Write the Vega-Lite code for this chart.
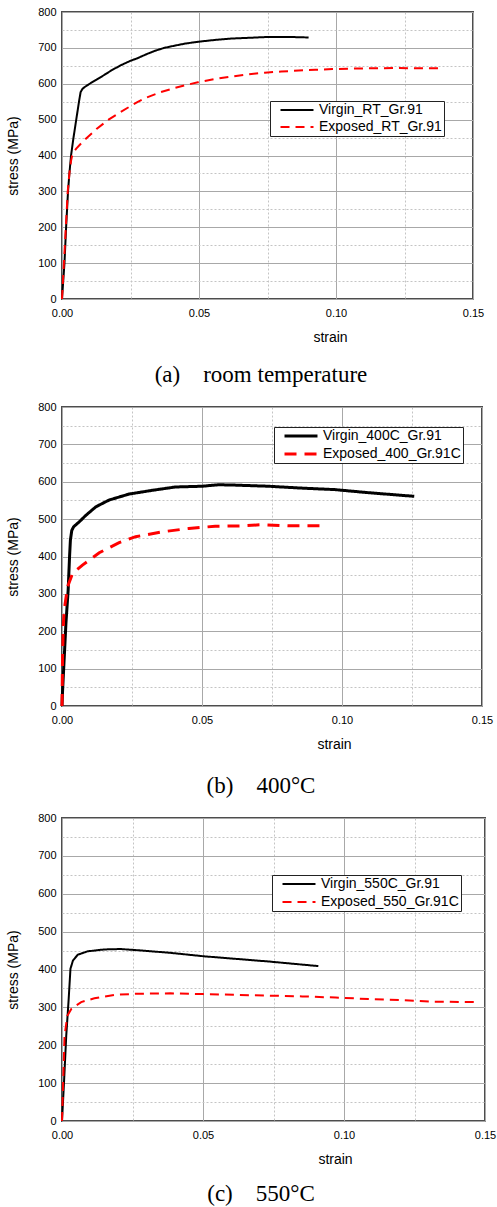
{
"$schema": "https://vega.github.io/schema/vega-lite/v6.json",
"padding": {"left": 5, "top": 5, "right": 5, "bottom": 5},
"spacing": 12,
"config": {
  "view": {"stroke": "#4d4d4d", "strokeWidth": 2},
  "font": "Liberation Sans",
  "axis": {"labelColor": "#000", "titleColor": "#000", "labelFont": "Liberation Sans", "titleFont": "Liberation Sans", "labelFontSize": 11, "titleFontSize": 14, "titleFontWeight": "normal", "domain": false, "ticks": false, "labelOverlap": false},
  "legend": {"labelFont": "Liberation Sans", "labelFontSize": 14, "labelColor": "#000", "strokeColor": "#222", "fillColor": "#ffffff", "padding": 2, "rowPadding": 3, "symbolType": "M-4,0H4", "symbolSize": 68, "symbolStrokeWidth": 2, "symbolOffset": 18, "labelOffset": 15, "orient": "none", "title": null},
  "title": {"font": "Liberation Serif", "fontSize": 23, "fontWeight": "normal", "color": "#000", "orient": "bottom", "offset": 20, "frame": "group"}
},
"resolve": {"scale": {"color": "independent", "strokeDash": "independent", "x": "independent", "y": "independent"}},
"datasets": {
  "a": [
    {"series": "Virgin_RT_Gr.91", "strain": 0, "stress": 0},
    {"series": "Virgin_RT_Gr.91", "strain": 0.0009, "stress": 100},
    {"series": "Virgin_RT_Gr.91", "strain": 0.0015, "stress": 200},
    {"series": "Virgin_RT_Gr.91", "strain": 0.0022, "stress": 300},
    {"series": "Virgin_RT_Gr.91", "strain": 0.0027, "stress": 350},
    {"series": "Virgin_RT_Gr.91", "strain": 0.0033, "stress": 400},
    {"series": "Virgin_RT_Gr.91", "strain": 0.0042, "stress": 450},
    {"series": "Virgin_RT_Gr.91", "strain": 0.0052, "stress": 500},
    {"series": "Virgin_RT_Gr.91", "strain": 0.0062, "stress": 550},
    {"series": "Virgin_RT_Gr.91", "strain": 0.0068, "stress": 577},
    {"series": "Virgin_RT_Gr.91", "strain": 0.0075, "stress": 586},
    {"series": "Virgin_RT_Gr.91", "strain": 0.0083, "stress": 591},
    {"series": "Virgin_RT_Gr.91", "strain": 0.0101, "stress": 600},
    {"series": "Virgin_RT_Gr.91", "strain": 0.0125, "stress": 611},
    {"series": "Virgin_RT_Gr.91", "strain": 0.0151, "stress": 623},
    {"series": "Virgin_RT_Gr.91", "strain": 0.018, "stress": 637},
    {"series": "Virgin_RT_Gr.91", "strain": 0.0213, "stress": 651},
    {"series": "Virgin_RT_Gr.91", "strain": 0.025, "stress": 664},
    {"series": "Virgin_RT_Gr.91", "strain": 0.0275, "stress": 671},
    {"series": "Virgin_RT_Gr.91", "strain": 0.031, "stress": 683},
    {"series": "Virgin_RT_Gr.91", "strain": 0.034, "stress": 692},
    {"series": "Virgin_RT_Gr.91", "strain": 0.0373, "stress": 700},
    {"series": "Virgin_RT_Gr.91", "strain": 0.041, "stress": 706},
    {"series": "Virgin_RT_Gr.91", "strain": 0.045, "stress": 712},
    {"series": "Virgin_RT_Gr.91", "strain": 0.0496, "stress": 717},
    {"series": "Virgin_RT_Gr.91", "strain": 0.0557, "stress": 722},
    {"series": "Virgin_RT_Gr.91", "strain": 0.0618, "stress": 726},
    {"series": "Virgin_RT_Gr.91", "strain": 0.068, "stress": 728},
    {"series": "Virgin_RT_Gr.91", "strain": 0.074, "stress": 730},
    {"series": "Virgin_RT_Gr.91", "strain": 0.08, "stress": 730},
    {"series": "Virgin_RT_Gr.91", "strain": 0.085, "stress": 730},
    {"series": "Virgin_RT_Gr.91", "strain": 0.09, "stress": 729},
    {"series": "Exposed_RT_Gr.91", "strain": 0, "stress": 0},
    {"series": "Exposed_RT_Gr.91", "strain": 0.0007, "stress": 100},
    {"series": "Exposed_RT_Gr.91", "strain": 0.0014, "stress": 200},
    {"series": "Exposed_RT_Gr.91", "strain": 0.0021, "stress": 300},
    {"series": "Exposed_RT_Gr.91", "strain": 0.0027, "stress": 350},
    {"series": "Exposed_RT_Gr.91", "strain": 0.0033, "stress": 385},
    {"series": "Exposed_RT_Gr.91", "strain": 0.0037, "stress": 400},
    {"series": "Exposed_RT_Gr.91", "strain": 0.0045, "stress": 412},
    {"series": "Exposed_RT_Gr.91", "strain": 0.0052, "stress": 419},
    {"series": "Exposed_RT_Gr.91", "strain": 0.007, "stress": 434},
    {"series": "Exposed_RT_Gr.91", "strain": 0.0089, "stress": 448},
    {"series": "Exposed_RT_Gr.91", "strain": 0.0126, "stress": 474},
    {"series": "Exposed_RT_Gr.91", "strain": 0.017, "stress": 500},
    {"series": "Exposed_RT_Gr.91", "strain": 0.0213, "stress": 521},
    {"series": "Exposed_RT_Gr.91", "strain": 0.0275, "stress": 549},
    {"series": "Exposed_RT_Gr.91", "strain": 0.031, "stress": 562},
    {"series": "Exposed_RT_Gr.91", "strain": 0.0361, "stress": 577},
    {"series": "Exposed_RT_Gr.91", "strain": 0.041, "stress": 588},
    {"series": "Exposed_RT_Gr.91", "strain": 0.045, "stress": 596},
    {"series": "Exposed_RT_Gr.91", "strain": 0.0496, "stress": 604},
    {"series": "Exposed_RT_Gr.91", "strain": 0.0557, "stress": 613},
    {"series": "Exposed_RT_Gr.91", "strain": 0.0618, "stress": 620},
    {"series": "Exposed_RT_Gr.91", "strain": 0.068, "stress": 626},
    {"series": "Exposed_RT_Gr.91", "strain": 0.074, "stress": 631},
    {"series": "Exposed_RT_Gr.91", "strain": 0.08, "stress": 634},
    {"series": "Exposed_RT_Gr.91", "strain": 0.0864, "stress": 637},
    {"series": "Exposed_RT_Gr.91", "strain": 0.0925, "stress": 639},
    {"series": "Exposed_RT_Gr.91", "strain": 0.0987, "stress": 641},
    {"series": "Exposed_RT_Gr.91", "strain": 0.105, "stress": 642},
    {"series": "Exposed_RT_Gr.91", "strain": 0.111, "stress": 643},
    {"series": "Exposed_RT_Gr.91", "strain": 0.117, "stress": 643},
    {"series": "Exposed_RT_Gr.91", "strain": 0.123, "stress": 644},
    {"series": "Exposed_RT_Gr.91", "strain": 0.13, "stress": 643},
    {"series": "Exposed_RT_Gr.91", "strain": 0.1393, "stress": 643}
  ],
  "b": [
    {"series": "Virgin_400C_Gr.91", "strain": 0, "stress": 0},
    {"series": "Virgin_400C_Gr.91", "strain": 0.0002, "stress": 40},
    {"series": "Virgin_400C_Gr.91", "strain": 0.0008, "stress": 130},
    {"series": "Virgin_400C_Gr.91", "strain": 0.0014, "stress": 221},
    {"series": "Virgin_400C_Gr.91", "strain": 0.0022, "stress": 310},
    {"series": "Virgin_400C_Gr.91", "strain": 0.0027, "stress": 400},
    {"series": "Virgin_400C_Gr.91", "strain": 0.003, "stress": 444},
    {"series": "Virgin_400C_Gr.91", "strain": 0.0035, "stress": 470},
    {"series": "Virgin_400C_Gr.91", "strain": 0.0042, "stress": 480},
    {"series": "Virgin_400C_Gr.91", "strain": 0.0062, "stress": 493},
    {"series": "Virgin_400C_Gr.91", "strain": 0.0085, "stress": 510},
    {"series": "Virgin_400C_Gr.91", "strain": 0.0121, "stress": 533},
    {"series": "Virgin_400C_Gr.91", "strain": 0.0168, "stress": 551},
    {"series": "Virgin_400C_Gr.91", "strain": 0.0239, "stress": 567},
    {"series": "Virgin_400C_Gr.91", "strain": 0.0322, "stress": 577},
    {"series": "Virgin_400C_Gr.91", "strain": 0.0405, "stress": 586},
    {"series": "Virgin_400C_Gr.91", "strain": 0.05, "stress": 588},
    {"series": "Virgin_400C_Gr.91", "strain": 0.0559, "stress": 592},
    {"series": "Virgin_400C_Gr.91", "strain": 0.0618, "stress": 591},
    {"series": "Virgin_400C_Gr.91", "strain": 0.0737, "stress": 588},
    {"series": "Virgin_400C_Gr.91", "strain": 0.0855, "stress": 583},
    {"series": "Virgin_400C_Gr.91", "strain": 0.0974, "stress": 579},
    {"series": "Virgin_400C_Gr.91", "strain": 0.109, "stress": 571},
    {"series": "Virgin_400C_Gr.91", "strain": 0.1258, "stress": 561},
    {"series": "Exposed_400_Gr.91C", "strain": 0, "stress": 0},
    {"series": "Exposed_400_Gr.91C", "strain": 0.0002, "stress": 132},
    {"series": "Exposed_400_Gr.91C", "strain": 0.0005, "stress": 221},
    {"series": "Exposed_400_Gr.91C", "strain": 0.0008, "stress": 257},
    {"series": "Exposed_400_Gr.91C", "strain": 0.002, "stress": 319},
    {"series": "Exposed_400_Gr.91C", "strain": 0.0038, "stress": 355},
    {"series": "Exposed_400_Gr.91C", "strain": 0.0073, "stress": 377},
    {"series": "Exposed_400_Gr.91C", "strain": 0.0133, "stress": 410},
    {"series": "Exposed_400_Gr.91C", "strain": 0.0204, "stress": 437},
    {"series": "Exposed_400_Gr.91C", "strain": 0.0263, "stress": 453},
    {"series": "Exposed_400_Gr.91C", "strain": 0.0358, "stress": 466},
    {"series": "Exposed_400_Gr.91C", "strain": 0.0453, "stress": 475},
    {"series": "Exposed_400_Gr.91C", "strain": 0.0547, "stress": 481},
    {"series": "Exposed_400_Gr.91C", "strain": 0.0642, "stress": 482},
    {"series": "Exposed_400_Gr.91C", "strain": 0.0713, "stress": 485},
    {"series": "Exposed_400_Gr.91C", "strain": 0.0808, "stress": 482},
    {"series": "Exposed_400_Gr.91C", "strain": 0.0927, "stress": 482}
  ],
  "c": [
    {"series": "Virgin_550C_Gr.91", "strain": 0, "stress": 0},
    {"series": "Virgin_550C_Gr.91", "strain": 0.0007, "stress": 100},
    {"series": "Virgin_550C_Gr.91", "strain": 0.0015, "stress": 225},
    {"series": "Virgin_550C_Gr.91", "strain": 0.0023, "stress": 314},
    {"series": "Virgin_550C_Gr.91", "strain": 0.003, "stress": 402},
    {"series": "Virgin_550C_Gr.91", "strain": 0.0039, "stress": 424},
    {"series": "Virgin_550C_Gr.91", "strain": 0.0056, "stress": 439},
    {"series": "Virgin_550C_Gr.91", "strain": 0.0091, "stress": 448},
    {"series": "Virgin_550C_Gr.91", "strain": 0.015, "stress": 453},
    {"series": "Virgin_550C_Gr.91", "strain": 0.0208, "stress": 454},
    {"series": "Virgin_550C_Gr.91", "strain": 0.0267, "stress": 451},
    {"series": "Virgin_550C_Gr.91", "strain": 0.0384, "stress": 444},
    {"series": "Virgin_550C_Gr.91", "strain": 0.0501, "stress": 435},
    {"series": "Virgin_550C_Gr.91", "strain": 0.0618, "stress": 428},
    {"series": "Virgin_550C_Gr.91", "strain": 0.0735, "stress": 421},
    {"series": "Virgin_550C_Gr.91", "strain": 0.0909, "stress": 409},
    {"series": "Exposed_550_Gr.91C", "strain": 0, "stress": 0},
    {"series": "Exposed_550_Gr.91C", "strain": 0.0004, "stress": 100},
    {"series": "Exposed_550_Gr.91C", "strain": 0.0009, "stress": 225},
    {"series": "Exposed_550_Gr.91C", "strain": 0.0019, "stress": 278},
    {"series": "Exposed_550_Gr.91C", "strain": 0.0033, "stress": 296},
    {"series": "Exposed_550_Gr.91C", "strain": 0.0068, "stress": 314},
    {"series": "Exposed_550_Gr.91C", "strain": 0.0115, "stress": 324},
    {"series": "Exposed_550_Gr.91C", "strain": 0.0185, "stress": 333},
    {"series": "Exposed_550_Gr.91C", "strain": 0.0267, "stress": 336},
    {"series": "Exposed_550_Gr.91C", "strain": 0.0384, "stress": 337},
    {"series": "Exposed_550_Gr.91C", "strain": 0.0501, "stress": 335},
    {"series": "Exposed_550_Gr.91C", "strain": 0.0618, "stress": 333},
    {"series": "Exposed_550_Gr.91C", "strain": 0.0735, "stress": 331},
    {"series": "Exposed_550_Gr.91C", "strain": 0.0852, "stress": 329},
    {"series": "Exposed_550_Gr.91C", "strain": 0.097, "stress": 326},
    {"series": "Exposed_550_Gr.91C", "strain": 0.1087, "stress": 322},
    {"series": "Exposed_550_Gr.91C", "strain": 0.1204, "stress": 319},
    {"series": "Exposed_550_Gr.91C", "strain": 0.1321, "stress": 315},
    {"series": "Exposed_550_Gr.91C", "strain": 0.1473, "stress": 314}
  ]
},
"vconcat": [
  {
    "width": 411, "height": 287,
    "data": {"name": "a"},
    "title": {"text": "(a)\u2003room temperature", "dx": -6.5},
    "mark": {"type": "line", "strokeWidth": 2},
    "encoding": {
      "x": {"field": "strain", "type": "quantitative", "scale": {"domain": [0, 0.15], "nice": false, "zero": false},
        "axis": {"title": "strain", "values": [0, 0.025, 0.05, 0.075, 0.1, 0.125, 0.15], "format": ".2f", "labelFlush": false, "labelPadding": 8,
          "labelExpr": "round(datum.value*1000) % 50 === 0 ? datum.label : ''",
          "gridColor": {"condition": {"test": "round(datum.value*1000) % 50 === 0", "value": "#a8a8a8"}, "value": "#c4c4c4"},
          "gridDash": {"condition": {"test": "round(datum.value*1000) % 50 === 0", "value": []}, "value": [2, 2]},
          "titleX": 268, "titleY": 38, "titleBaseline": "middle"}},
      "y": {"field": "stress", "type": "quantitative", "scale": {"domain": [0, 800], "nice": false},
        "axis": {"title": "stress (MPa)", "values": [0, 50, 100, 150, 200, 250, 300, 350, 400, 450, 500, 550, 600, 650, 700, 750, 800], "labelPadding": 6,
          "labelExpr": "datum.value % 100 === 0 ? datum.label : ''",
          "gridColor": {"condition": {"test": "datum.value % 100 === 0", "value": "#a8a8a8"}, "value": "#c4c4c4"},
          "gridDash": {"condition": {"test": "datum.value % 100 === 0", "value": []}, "value": [2, 2]},
          "titleX": -49, "titleBaseline": "middle"}},
      "color": {"field": "series", "type": "nominal", "scale": {"domain": ["Virgin_RT_Gr.91", "Exposed_RT_Gr.91"], "range": ["#000000", "#ff0000"]},
        "legend": {"legendX": 208, "legendY": 89}},
      "strokeDash": {"field": "series", "type": "nominal", "scale": {"domain": ["Virgin_RT_Gr.91", "Exposed_RT_Gr.91"], "range": [[1, 0], [9, 6]]},
        "legend": {"legendX": 208, "legendY": 89}}
    }
  },
  {
    "width": 420, "height": 299,
    "data": {"name": "b"},
    "title": {"text": "(b)\u2003400°C", "dx": -11, "offset": 24},
    "mark": {"type": "line", "strokeWidth": 3},
    "encoding": {
      "x": {"field": "strain", "type": "quantitative", "scale": {"domain": [0, 0.15], "nice": false, "zero": false},
        "axis": {"title": "strain", "values": [0, 0.025, 0.05, 0.075, 0.1, 0.125, 0.15], "format": ".2f", "labelFlush": false, "labelPadding": 8,
          "labelExpr": "round(datum.value*1000) % 50 === 0 ? datum.label : ''",
          "gridColor": {"condition": {"test": "round(datum.value*1000) % 50 === 0", "value": "#a8a8a8"}, "value": "#c4c4c4"},
          "gridDash": {"condition": {"test": "round(datum.value*1000) % 50 === 0", "value": []}, "value": [2, 2]},
          "titleX": 272, "titleY": 38, "titleBaseline": "middle"}},
      "y": {"field": "stress", "type": "quantitative", "scale": {"domain": [0, 800], "nice": false},
        "axis": {"title": "stress (MPa)", "values": [0, 50, 100, 150, 200, 250, 300, 350, 400, 450, 500, 550, 600, 650, 700, 750, 800], "labelPadding": 6,
          "labelExpr": "datum.value % 100 === 0 ? datum.label : ''",
          "gridColor": {"condition": {"test": "datum.value % 100 === 0", "value": "#a8a8a8"}, "value": "#c4c4c4"},
          "gridDash": {"condition": {"test": "datum.value % 100 === 0", "value": []}, "value": [2, 2]},
          "titleX": -49, "titleBaseline": "middle"}},
      "color": {"field": "series", "type": "nominal", "scale": {"domain": ["Virgin_400C_Gr.91", "Exposed_400_Gr.91C"], "range": ["#000000", "#ff0000"]},
        "legend": {"legendX": 212, "legendY": 20, "symbolStrokeWidth": 3, "rowPadding": 4}},
      "strokeDash": {"field": "series", "type": "nominal", "scale": {"domain": ["Virgin_400C_Gr.91", "Exposed_400_Gr.91C"], "range": [[1, 0], [12, 8]]},
        "legend": {"legendX": 212, "legendY": 20, "symbolStrokeWidth": 3, "rowPadding": 4}}
    }
  },
  {
    "width": 423, "height": 303,
    "data": {"name": "c"},
    "title": {"text": "(c)\u2003550°C", "dx": -12.5, "offset": 17},
    "mark": {"type": "line", "strokeWidth": 2},
    "encoding": {
      "x": {"field": "strain", "type": "quantitative", "scale": {"domain": [0, 0.15], "nice": false, "zero": false},
        "axis": {"title": "strain", "values": [0, 0.025, 0.05, 0.075, 0.1, 0.125, 0.15], "format": ".2f", "labelFlush": false, "labelPadding": 8,
          "labelExpr": "round(datum.value*1000) % 50 === 0 ? datum.label : ''",
          "gridColor": {"condition": {"test": "round(datum.value*1000) % 50 === 0", "value": "#a8a8a8"}, "value": "#c4c4c4"},
          "gridDash": {"condition": {"test": "round(datum.value*1000) % 50 === 0", "value": []}, "value": [2, 2]},
          "titleX": 273, "titleY": 38, "titleBaseline": "middle"}},
      "y": {"field": "stress", "type": "quantitative", "scale": {"domain": [0, 800], "nice": false},
        "axis": {"title": "stress (MPa)", "values": [0, 50, 100, 150, 200, 250, 300, 350, 400, 450, 500, 550, 600, 650, 700, 750, 800], "labelPadding": 6,
          "labelExpr": "datum.value % 100 === 0 ? datum.label : ''",
          "gridColor": {"condition": {"test": "datum.value % 100 === 0", "value": "#a8a8a8"}, "value": "#c4c4c4"},
          "gridDash": {"condition": {"test": "datum.value % 100 === 0", "value": []}, "value": [2, 2]},
          "titleX": -49, "titleBaseline": "middle"}},
      "color": {"field": "series", "type": "nominal", "scale": {"domain": ["Virgin_550C_Gr.91", "Exposed_550_Gr.91C"], "range": ["#000000", "#ff0000"]},
        "legend": {"legendX": 210, "legendY": 57, "rowPadding": 4}},
      "strokeDash": {"field": "series", "type": "nominal", "scale": {"domain": ["Virgin_550C_Gr.91", "Exposed_550_Gr.91C"], "range": [[1, 0], [9, 6]]},
        "legend": {"legendX": 210, "legendY": 57, "rowPadding": 4}}
    }
  }
]
}
